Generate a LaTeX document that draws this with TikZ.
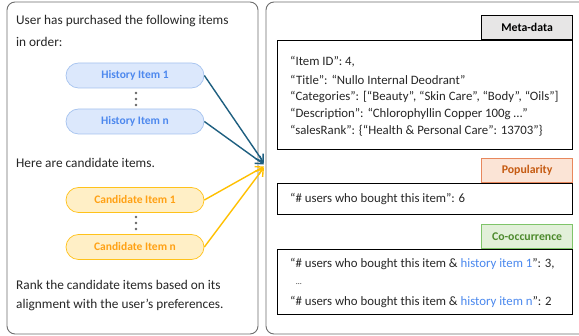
\documentclass[tikz,border=0pt]{standalone}
\usepackage{fontspec}
\setmainfont{Carlito}
\usetikzlibrary{arrows.meta}
\definecolor{panelgray}{HTML}{6E6E6E}
\definecolor{txtc}{HTML}{262626}
\definecolor{hfill}{HTML}{DCE8FC}
\definecolor{hdraw}{HTML}{A6C3EF}
\definecolor{htext}{HTML}{4D88EE}
\definecolor{cfill}{HTML}{FFEFC6}
\definecolor{cdraw}{HTML}{FFC21A}
\definecolor{ctext}{HTML}{FFA114}
\definecolor{arrblue}{HTML}{1E5F80}
\definecolor{arryel}{HTML}{FFC000}
\definecolor{metafill}{HTML}{E7E6E6}
\definecolor{popfill}{HTML}{FBE4D6}
\definecolor{popdraw}{HTML}{E8875C}
\definecolor{poptext}{HTML}{C55A11}
\definecolor{cofill}{HTML}{E2F0D9}
\definecolor{codraw}{HTML}{7FC46A}
\definecolor{cotext}{HTML}{4E8A2E}
\definecolor{linkblue}{HTML}{4A88EE}
\tikzset{
  panel/.style={draw=panelgray, line width=0.9pt, rounded corners=8pt},
  ltxt/.style={anchor=west, inner sep=0pt, text=txtc, font=\fontsize{13.3}{16}\selectfont},
  rtxt/.style={anchor=west, inner sep=0pt, text=txtc, font=\fontsize{12.8}{14}\selectfont},
  pill/.style={minimum width=138pt, minimum height=25pt, rounded corners=12.5pt, inner sep=0pt, line width=0.7pt, font=\bfseries\fontsize{11.5}{13}\selectfont},
  hpill/.style={pill, draw=hdraw, fill=hfill, text=htext},
  cpill/.style={pill, draw=cdraw, fill=cfill, text=ctext},
  tab/.style={minimum width=91pt, minimum height=24pt, inner sep=0pt, line width=0.8pt, anchor=south east, font=\bfseries\fontsize{11.8}{13}\selectfont},
  infobox/.style={draw=black, line width=0.9pt, minimum width=295pt, anchor=north east, inner sep=0pt},
  barrow/.style={draw=arrblue, line width=1.4pt, -{Straight Barb[length=7pt,width=9pt]}},
  yarrow/.style={draw=arryel, line width=1.4pt, -{Straight Barb[length=7pt,width=9pt]}},
  dot/.style={fill=gray!80!black}
}
\begin{document}
\begin{tikzpicture}[x=1pt,y=-1pt]
\useasboundingbox (0,0) rectangle (579,336);
\fill[white] (0,0) rectangle (579,336);
% panels
\draw[panel] (7,2) rectangle (258,334);
\draw[panel] (266,2) rectangle (592,334);
% left texts
\node[ltxt] (t1) at (16,21) {User has purchased the following items};
\node[ltxt] (t2) at (16,42) {in order:};
\node[ltxt] (t3) at (16,163) {Here are candidate items.};
\node[ltxt] (t4) at (16,285) {Rank the candidate items based on its};
\node[ltxt] (t5) at (16,305) {alignment with the user’s preferences.};
% pills
\node[hpill] (h1) at (135,75.5) {History Item 1};
\node[hpill] (hn) at (135,121.5) {History Item n};
\node[cpill] (c1) at (135,200) {Candidate Item 1};
\node[cpill] (cn) at (135,247) {Candidate Item n};
\foreach \yy in {93,99,105} \fill[dot] (136,\yy) circle (1.3pt);
\foreach \yy in {217,223,229} \fill[dot] (136,\yy) circle (1.3pt);
% arrow targets
\coordinate (e1) at (264,163);
\coordinate (e2) at (264,164.5);
\coordinate (e3) at (264,166.5);
\coordinate (e4) at (264,167.5);
\draw[yarrow] (c1.east) -- (e3);
\draw[yarrow] (cn.east) -- (e4);
\draw[barrow] (h1.east) -- (e1);
\draw[barrow] (hn.east) -- (e2);
% meta-data
\node[tab, draw=black, fill=metafill, text=black] (mtab) at (573,40) {Meta-data};
\node[infobox, minimum height=109pt] (mbox) at (573,40) {};
\node[rtxt] (m1) at (290,62) {“Item ID”: 4,};
\node[rtxt] (m2) at (290,79.5) {“Title”: “Nullo Internal Deodrant”};
\node[rtxt] (m3) at (290,97) {“Categories”: [“Beauty”, “Skin Care”, “Body”, “Oils”]};
\node[rtxt] (m4) at (290,114) {“Description”: “Chlorophyllin Copper 100g …”};
\node[rtxt] (m5) at (290,131) {“salesRank”: \{“Health \& Personal Care”: 13703”\}};
% popularity
\node[tab, draw=popdraw, fill=popfill, text=poptext] (ptab) at (573,183) {Popularity};
\node[infobox, minimum height=31pt] (pbox) at (573,183) {};
\node[rtxt] (p1) at (290,199) {“\# users who bought this item”: 6};
% co-occurrence
\node[tab, draw=codraw, fill=cofill, text=cotext] (ctab) at (573,249) {Co-occurrence};
\node[infobox, minimum height=65pt] (cbox) at (573,249) {};
\node[rtxt] (o1) at (290,264) {“\# users who bought this item \& \textcolor{linkblue}{history item 1}”: 3,};
\node[rtxt, font=\fontsize{8}{10}\selectfont] (o2) at (296,284) {…};
\node[rtxt] (o3) at (290,302) {“\# users who bought this item \& \textcolor{linkblue}{history item n}”: 2};
\end{tikzpicture}
\end{document}
